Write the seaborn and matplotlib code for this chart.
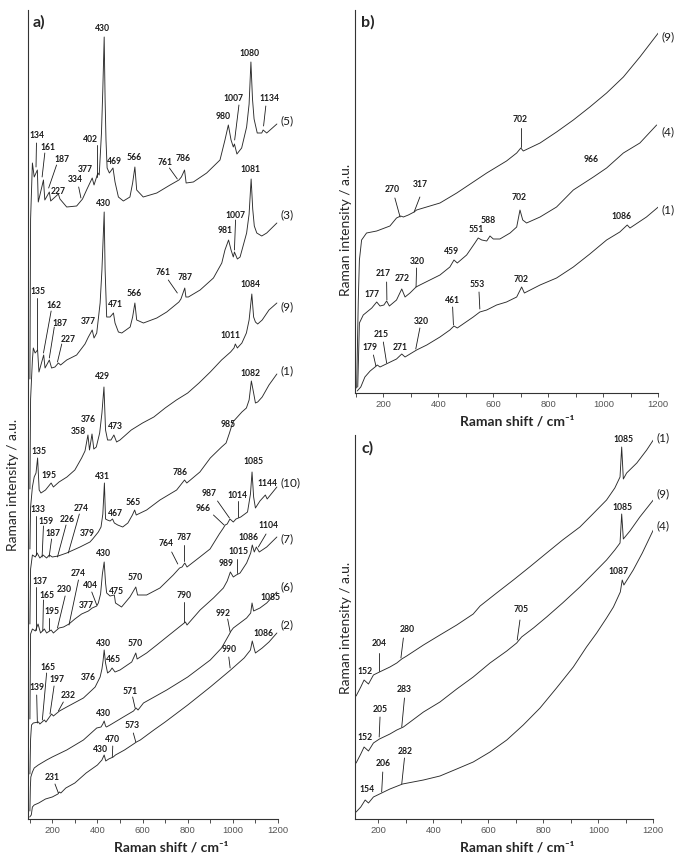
import matplotlib
matplotlib.use("Agg")
import matplotlib.pyplot as plt
from matplotlib.ticker import MultipleLocator
import pandas as pd
import seaborn as sns

# Raman spectra (shift / cm-1, intensity in a.u.)
# panel a) - stacked from top to bottom
a5 = [(101, 440), (104, 600), (112, 656), (120, 642), (134, 649), (138, 617), (161, 639), (167, 619),
      (187, 627), (193, 618), (227, 625), (234, 620), (264, 612), (308, 613), (334, 620), (352, 629),
      (377, 641), (385, 634), (402, 646), (408, 644), (418, 686), (424, 730), (430, 782), (434, 720),
      (438, 679), (443, 651), (453, 646), (469, 651), (478, 637), (493, 622), (515, 618), (544, 622),
      (556, 636), (566, 652), (574, 629), (603, 622), (663, 626), (722, 634), (761, 639), (772, 642),
      (786, 649), (793, 636), (825, 637), (884, 646), (943, 659), (965, 679), (980, 694), (992, 679),
      (1002, 672), (1007, 675), (1018, 665), (1039, 671), (1061, 692), (1072, 715), (1080, 757),
      (1087, 720), (1094, 700), (1108, 686), (1128, 686), (1134, 689), (1150, 686), (1170, 690),
      (1195, 695)]
a3 = [(101, 330), (104, 420), (112, 459), (116, 471), (124, 466), (135, 469), (141, 447), (162, 464),
      (168, 451), (187, 459), (197, 451), (212, 452), (227, 456), (237, 454), (264, 459), (308, 464),
      (345, 475), (360, 482), (377, 489), (385, 481), (397, 486), (412, 516), (420, 549), (430, 607),
      (434, 550), (441, 502), (456, 502), (471, 506), (478, 496), (493, 487), (508, 486), (545, 492),
      (556, 502), (566, 516), (574, 499), (604, 496), (663, 501), (707, 507), (761, 517), (770, 520),
      (787, 531), (792, 522), (803, 522), (855, 529), (914, 541), (951, 556), (965, 569), (981, 579),
      (992, 569), (1002, 562), (1007, 567), (1020, 560), (1032, 562), (1061, 586), (1072, 605),
      (1081, 640), (1088, 610), (1095, 593), (1106, 586), (1128, 583), (1150, 586), (1195, 596)]
a9 = [(101, 270), (104, 312), (112, 332), (120, 342), (128, 346), (135, 361), (142, 329), (150, 326),
      (170, 329), (195, 336), (205, 332), (230, 337), (265, 342), (300, 349), (330, 361), (345, 368),
      (358, 384), (365, 369), (376, 385), (384, 370), (395, 372), (410, 386), (420, 406), (429, 432),
      (436, 389), (445, 379), (460, 379), (473, 384), (485, 377), (500, 379), (550, 389), (600, 396),
      (650, 402), (700, 411), (750, 419), (800, 426), (850, 436), (900, 447), (950, 459), (990, 467),
      (1005, 471), (1011, 475), (1020, 471), (1040, 476), (1060, 486), (1072, 499), (1084, 525),
      (1092, 502), (1100, 497), (1110, 495), (1130, 499), (1160, 509), (1195, 516)]
a1 = [(101, 195), (104, 250), (112, 264), (125, 262), (133, 266), (145, 261), (159, 264), (175, 261),
      (187, 264), (200, 262), (226, 263), (264, 266), (323, 272), (367, 277), (379, 280), (404, 287),
      (416, 292), (424, 305), (431, 336), (436, 300), (444, 299), (456, 298), (467, 300), (475, 296),
      (490, 294), (512, 292), (535, 296), (555, 304), (565, 309), (572, 304), (618, 309), (677, 319),
      (751, 329), (786, 339), (796, 336), (854, 347), (900, 361), (950, 372), (970, 376), (985, 386),
      (1000, 397), (1020, 402), (1040, 407), (1060, 411), (1072, 419), (1082, 438), (1092, 426),
      (1100, 416), (1110, 417), (1130, 422), (1160, 434), (1195, 445)]
a10 = [(101, 100), (104, 185), (112, 190), (125, 188), (137, 195), (148, 186), (165, 190), (175, 186),
       (195, 189), (205, 186), (230, 191), (250, 192), (274, 195), (300, 200), (330, 205), (360, 208),
       (377, 211), (397, 213), (404, 216), (414, 225), (422, 245), (430, 257), (436, 236), (441, 226),
       (456, 223), (475, 224), (480, 216), (507, 212), (544, 222), (570, 232), (578, 224), (618, 224),
       (677, 231), (736, 244), (764, 251), (775, 252), (787, 256), (797, 252), (854, 262), (899, 270),
       (940, 285), (958, 291), (966, 294), (975, 295), (987, 300), (1002, 297), (1014, 300),
       (1035, 302), (1065, 307), (1078, 325), (1085, 347), (1092, 322), (1100, 311), (1120, 318),
       (1144, 324), (1152, 320), (1195, 332)]
a7 = [(101, 45), (104, 80), (108, 94), (116, 96), (139, 97), (145, 95), (165, 99), (172, 97),
      (197, 105), (205, 103), (232, 108), (264, 112), (338, 121), (376, 129), (390, 132), (412, 142),
      (420, 150), (425, 158), (430, 169), (436, 156), (445, 146), (456, 148), (465, 151), (478, 147),
      (500, 149), (552, 157), (570, 166), (576, 160), (618, 166), (663, 174), (707, 182), (790, 197),
      (797, 194), (855, 209), (914, 221), (958, 231), (975, 238), (989, 247), (1002, 242),
      (1015, 244), (1032, 246), (1061, 256), (1079, 266), (1086, 274), (1095, 267), (1104, 272),
      (1117, 267), (1150, 272), (1195, 282)]
a6 = [(101, 8), (103, 32), (105, 42), (112, 47), (120, 51), (138, 54), (175, 59), (200, 62),
      (264, 69), (338, 79), (397, 91), (416, 92), (424, 95), (430, 98), (436, 93), (440, 92),
      (456, 94), (515, 102), (560, 108), (571, 111), (580, 109), (604, 116), (707, 129), (800, 142),
      (900, 159), (950, 171), (985, 185), (992, 188), (1002, 191), (1061, 201), (1079, 206),
      (1085, 216), (1092, 208), (1120, 211), (1150, 216), (1195, 227)]
a2 = [(100, 2), (107, 4), (112, 12), (120, 14), (140, 16), (170, 20), (200, 22), (225, 25), (231, 27),
      (238, 26), (260, 31), (300, 36), (350, 46), (400, 54), (420, 59), (430, 64), (437, 58), (450, 60),
      (470, 62), (480, 64), (520, 69), (560, 75), (573, 77), (590, 79), (650, 89), (700, 97),
      (800, 114), (900, 132), (990, 149), (1000, 151), (1050, 161), (1078, 169), (1086, 178),
      (1095, 170), (1100, 166), (1130, 171), (1160, 177), (1195, 186)]

# panel b)
b9 = [(103, 5), (109, 93), (113, 133), (121, 153), (139, 160), (176, 162), (224, 167), (248, 175),
      (263, 177), (273, 176), (291, 178), (312, 181), (321, 183), (406, 190), (467, 200), (527, 211),
      (576, 220), (648, 232), (685, 240), (700, 245), (709, 242), (770, 250), (830, 261), (891, 273),
      (951, 286), (1012, 300), (1073, 316), (1133, 336), (1200, 360)]
b4 = [(107, 6), (113, 70), (127, 78), (158, 85), (176, 91), (188, 87), (202, 88), (212, 92), (222, 87),
      (248, 93), (267, 104), (279, 96), (297, 100), (319, 106), (333, 108), (406, 118), (442, 126),
      (457, 133), (469, 130), (503, 138), (533, 150), (545, 155), (558, 153), (576, 152), (588, 157),
      (600, 154), (624, 154), (661, 160), (685, 166), (697, 183), (707, 173), (721, 170), (770, 176),
      (830, 186), (891, 203), (964, 216), (1012, 225), (1073, 240), (1133, 250), (1194, 268)]
b1 = [(105, 2), (118, 6), (133, 16), (152, 22), (170, 26), (178, 28), (188, 26), (218, 30), (248, 34),
      (267, 39), (279, 36), (321, 43), (358, 48), (406, 56), (442, 63), (457, 67), (469, 65), (527, 76),
      (551, 81), (576, 83), (612, 88), (648, 91), (685, 96), (703, 106), (713, 100), (770, 108),
      (830, 115), (891, 126), (951, 139), (1012, 153), (1060, 161), (1087, 168), (1097, 165),
      (1157, 176), (1200, 186)]

# panel c)
c1 = [(119, 123), (136, 132), (148, 139), (164, 135), (182, 144), (204, 147), (242, 152), (267, 156),
      (285, 160), (303, 163), (364, 174), (424, 184), (485, 194), (545, 205), (570, 213), (630, 226),
      (691, 239), (750, 252), (812, 266), (870, 279), (933, 292), (980, 305), (1030, 319), (1060, 331),
      (1079, 342), (1085, 372), (1091, 340), (1103, 346), (1140, 356), (1176, 369), (1200, 379)]
c9 = [(119, 56), (136, 65), (148, 72), (164, 68), (182, 76), (204, 80), (242, 85), (267, 89), (291, 92),
      (364, 107), (424, 117), (485, 130), (545, 142), (606, 156), (667, 168), (703, 176), (721, 182),
      (764, 191), (812, 202), (870, 216), (933, 232), (980, 245), (1030, 259), (1060, 269),
      (1079, 276), (1085, 305), (1091, 280), (1115, 288), (1151, 302), (1200, 319)]
c4 = [(119, 7), (136, 12), (152, 19), (164, 16), (182, 22), (212, 26), (242, 30), (288, 35), (364, 39),
      (424, 43), (485, 50), (545, 57), (606, 67), (667, 79), (727, 94), (788, 111), (848, 131),
      (909, 152), (957, 172), (994, 186), (1030, 201), (1055, 212), (1080, 227), (1087, 239),
      (1093, 234), (1127, 249), (1160, 266), (1200, 289)]

# peak labels: (text, shift, intensity)
a_labels = [("430", 422, 791), ("1080", 1073, 766), ("1007", 1003, 721), ("1134", 1160, 721),
            ("980", 955, 703), ("134", 134, 684), ("161", 180, 672), ("187", 245, 660),
            ("227", 227, 628), ("334", 302, 640), ("377", 345, 650), ("402", 367, 680),
            ("469", 475, 658), ("566", 562, 662), ("761", 698, 657), ("786", 781, 661),
            ("430", 426, 616), ("1081", 1076, 650), ("1007", 1010, 604), ("981", 967, 589),
            ("761", 691, 547), ("787", 788, 542), ("566", 562, 526), ("471", 478, 515),
            ("377", 360, 498), ("135", 138, 528), ("162", 208, 514), ("187", 234, 496),
            ("227", 271, 480),
            ("1084", 1076, 535), ("1011", 988, 484), ("429", 422, 443), ("376", 360, 400),
            ("358", 316, 388), ("473", 478, 393), ("135", 143, 368), ("195", 187, 344),
            ("1082", 1079, 446), ("985", 980, 395), ("431", 423, 343), ("786", 766, 347),
            ("467", 478, 306), ("565", 559, 317), ("133", 138, 309), ("159", 171, 297),
            ("187", 202, 285), ("226", 264, 300), ("274", 330, 311), ("379", 356, 286),
            ("1085", 1091, 358), ("1144", 1155, 336), ("987", 896, 326), ("1014", 1020, 324),
            ("966", 870, 311), ("764", 703, 275), ("787", 785, 282), ("430", 426, 266),
            ("475", 485, 228), ("570", 567, 242), ("137", 146, 238), ("274", 316, 245),
            ("165", 175, 224), ("230", 252, 229), ("404", 367, 234), ("377", 350, 214),
            ("195", 197, 207),
            ("1104", 1158, 293), ("1086", 1069, 282), ("1015", 1025, 267), ("989", 968, 255),
            ("790", 785, 223), ("430", 426, 176), ("570", 567, 175), ("465", 471, 159),
            ("376", 360, 141), ("165", 180, 152), ("139", 134, 131), ("197", 223, 139),
            ("232", 271, 123),
            ("1085", 1165, 222), ("992", 958, 206), ("571", 545, 128), ("430", 426, 105),
            ("1086", 1135, 185), ("990", 985, 169), ("573", 555, 93), ("470", 468, 80),
            ("430", 412, 69), ("231", 200, 41)]
a_leaders = [(1027, 714, 1008, 679), (1146, 713, 1136, 693), (130, 676, 128, 652),
             (167, 666, 155, 642), (219, 654, 184, 631), (317, 632, 327, 621), (397, 674, 397, 642),
             (719, 651, 754, 640), (1012, 599, 1007, 569), (714, 539, 754, 526),
             (131, 521, 131, 469), (195, 508, 161, 466), (209, 492, 187, 461), (242, 475, 223, 457),
             (128, 303, 128, 264), (161, 293, 155, 262), (197, 280, 186, 262), (261, 294, 223, 262),
             (320, 305, 271, 266), (932, 318, 985, 301), (1023, 318, 1023, 302),
             (914, 304, 961, 294), (729, 267, 756, 255), (785, 274, 785, 258), (127, 232, 127, 189),
             (316, 239, 274, 194), (161, 219, 158, 188), (257, 223, 223, 191), (375, 227, 397, 214),
             (187, 201, 187, 189), (1147, 285, 1113, 272), (1017, 260, 1017, 246),
             (785, 217, 785, 197), (175, 146, 156, 99), (131, 124, 134, 96), (208, 133, 190, 105),
             (249, 117, 227, 108), (977, 200, 988, 187), (556, 122, 567, 111), (982, 162, 988, 151),
             (559, 86, 570, 77), (468, 73, 466, 62), (212, 35, 227, 26)]
a_tags = [("(5)", 698), ("(3)", 604), ("(9)", 512), ("(1)", 448), ("(10)", 336), ("(7)", 280),
          ("(6)", 232), ("(2)", 194)]

b_labels = [("702", 697, 274), ("966", 954, 234), ("270", 233, 204), ("317", 333, 209),
            ("702", 692, 196), ("588", 582, 173), ("551", 537, 164), ("459", 448, 142),
            ("320", 324, 132), ("217", 200, 120), ("272", 267, 115), ("177", 160, 99),
            ("1086", 1067, 177), ("702", 701, 114), ("553", 543, 109), ("461", 451, 93),
            ("320", 339, 72), ("215", 194, 59), ("271", 261, 46), ("179", 152, 46)]
b_leaders = [(700, 265, 700, 246), (242, 195, 261, 176), (333, 196, 312, 181), (321, 125, 319, 106),
             (212, 111, 213, 93), (548, 101, 551, 84), (452, 86, 455, 68), (333, 65, 318, 44),
             (200, 51, 212, 30), (164, 38, 173, 27)]
b_tags = [("(9)", 356), ("(4)", 261), ("(1)", 183)]

c_labels = [("1085", 1091, 379), ("1085", 1088, 312), ("1087", 1073, 247), ("705", 719, 209),
            ("280", 303, 190), ("204", 204, 176), ("152", 152, 147), ("205", 206, 109),
            ("283", 295, 129), ("152", 152, 81), ("282", 297, 67), ("206", 216, 55),
            ("154", 158, 29)]
c_leaders = [(715, 199, 705, 179), (291, 181, 282, 161), (204, 166, 204, 148), (206, 102, 203, 82),
             (295, 121, 285, 92), (295, 61, 285, 35), (216, 47, 212, 27)]
c_tags = [("(1)", 381), ("(9)", 325), ("(4)", 293)]

sns.set_style("white")
plt.rcParams['font.family'] = ['Lato', 'DejaVu Sans']

W, H = 685, 865
LINE = '#2b2b2b'


def px_rect(left, top, right, bottom):
    return [left / W, 1 - bottom / H, (right - left) / W, (bottom - top) / H]


def draw_panel(ax, spectra, labels, leaders, tags, xlim, ylim):
    frames = [pd.DataFrame(pts, columns=['shift', 'intensity']).assign(sample=name)
              for name, pts in spectra.items()]
    df = pd.concat(frames, ignore_index=True)
    sns.lineplot(data=df, x='shift', y='intensity', units='sample', estimator=None,
                 sort=False, color=LINE, lw=0.65, ax=ax)

    for text, x, y in labels:
        ax.text(x, y, text, ha='center', va='center', fontsize=6.2, fontweight='bold',
                color='#1a1a1a')
    for x0, y0, x1, y1 in leaders:
        ax.plot([x0, x1], [y0, y1], color='#1a1a1a', lw=0.6)
    for text, y in tags:
        ax.text(1210, y, text, ha='left', va='center', fontsize=8.5, color='#1a1a1a',
                clip_on=False)

    ax.set_xlim(*xlim)
    ax.set_ylim(*ylim)
    ax.set_yticks([])
    ax.set_xlabel('')
    ax.set_ylabel('')
    ax.set_xticks(range(200, 1201, 200))
    ax.xaxis.set_minor_locator(MultipleLocator(100))
    ax.tick_params(axis='x', which='both', direction='out', length=3, width=0.6,
                   color='#333333', bottom=True, pad=2)
    for lab in ax.get_xticklabels():
        lab.set_fontfamily('Liberation Sans')
        lab.set_fontsize(6.8)
        lab.set_color('#555555')
    sns.despine(ax=ax)
    for side in ('left', 'bottom'):
        ax.spines[side].set_linewidth(0.8)
        ax.spines[side].set_color('#333333')


fig = plt.figure(figsize=(W / 100, H / 100), dpi=100)
ax_a = fig.add_axes(px_rect(28, 10, 278, 819))
ax_b = fig.add_axes(px_rect(355, 10, 658.3, 393))
ax_c = fig.add_axes(px_rect(355, 435, 653.3, 819))

draw_panel(ax_a, {'5': a5, '3': a3, '9': a9, '1': a1, '10': a10, '7': a7, '6': a6, '2': a2},
           a_labels, a_leaders, a_tags, (92.5, 1200), (0, 809))
draw_panel(ax_b, {'9': b9, '4': b4, '1': b1}, b_labels, b_leaders, b_tags, (97, 1200), (0, 383))
draw_panel(ax_c, {'1': c1, '9': c9, '4': c4}, c_labels, c_leaders, c_tags, (115, 1200), (0, 384))


def fig_text(px, py, text, **kw):
    fig.text(px / W, 1 - py / H, text, **kw)


# panel letters
fig_text(33, 22, 'a)', fontsize=11.5, fontweight='bold', ha='left', va='center')
fig_text(361, 22, 'b)', fontsize=11.5, fontweight='bold', ha='left', va='center')
fig_text(362, 448, 'c)', fontsize=11.5, fontweight='bold', ha='left', va='center')

# axis titles
xlab = 'Raman shift / cm\u207b\u00b9'
ylab = 'Raman intensity / a.u.'
for px, py in [(171, 847), (517, 421), (517, 847)]:
    fig_text(px, py, xlab, fontsize=10, fontweight='bold', ha='center', va='center')
for px, py in [(13, 485), (346, 230), (346, 628)]:
    fig_text(px, py, ylab, fontsize=10, rotation=90, ha='center', va='center')

fig.savefig('out.png', dpi=100)
